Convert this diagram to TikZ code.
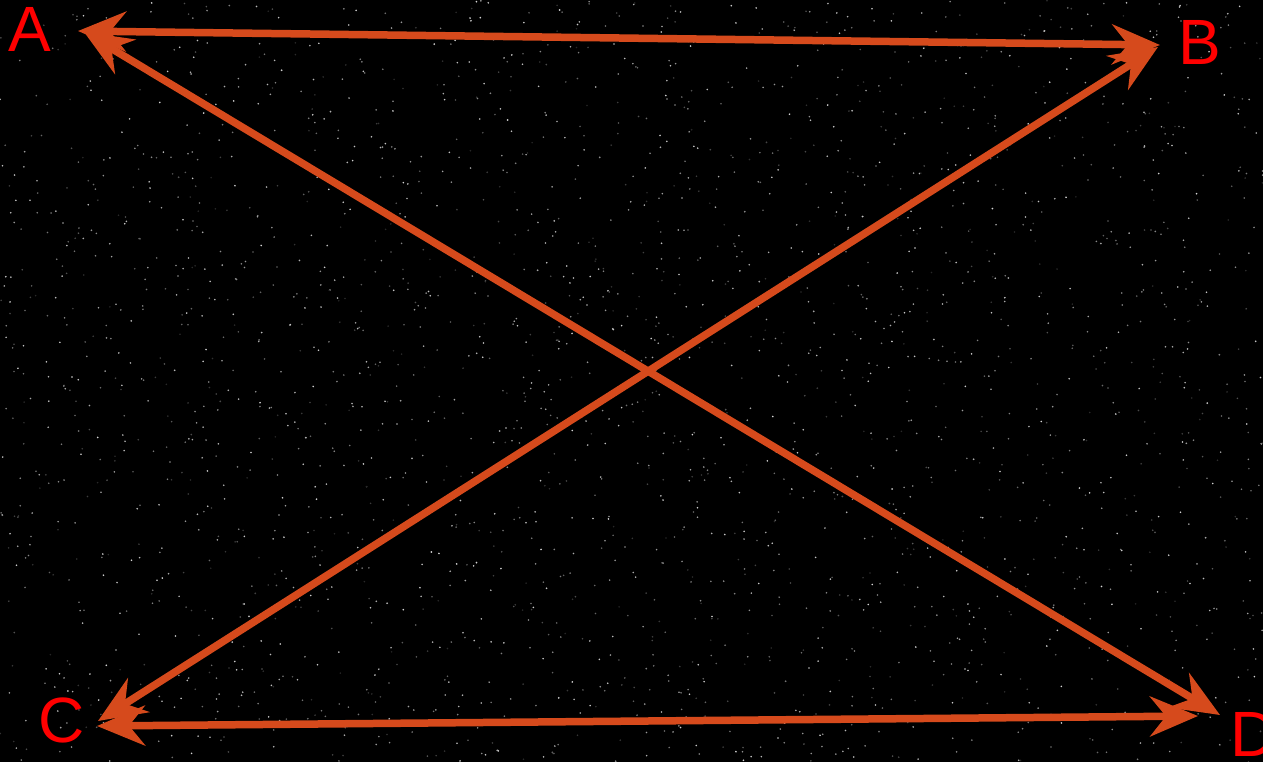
\documentclass[tikz,border=0pt]{standalone}
\usepackage{fontspec}
\setmainfont{Liberation Sans}
\usetikzlibrary{arrows.meta}
\definecolor{arrowc}{RGB}{214,74,28}
\definecolor{labelc}{RGB}{255,0,0}
\tikzset{
  conn/.style={draw=arrowc, line width=7.5pt, {Stealth[length=48pt,width=40pt,inset=16pt]}-{Stealth[length=48pt,width=40pt,inset=16pt]}},
  lbl/.style={text=labelc, inner sep=0pt, anchor=base, font=\fontsize{64}{64}\selectfont}
}
\begin{document}
\begin{tikzpicture}[x=1pt,y=-1pt]
\fill[black] (0,0) rectangle (1263,762);
\useasboundingbox (0,0) rectangle (1263,762);
\pgfmathsetseed{7}
\foreach \i in {1,...,2600}{
  \pgfmathsetmacro\sx{rnd*1263}
  \pgfmathsetmacro\sy{rnd*762}
  \pgfmathtruncatemacro\g{15+rnd*70}
  \fill[white!\g!black] (\sx,\sy) circle (0.9);
}
\node[lbl] (A) at (30,52) {A};
\node[lbl] (B) at (1200,65) {B};
\node[lbl] (C) at (62,742) {C};
\node[lbl] (D) at (1254,756) {D};
\coordinate (ab1) at (78,31);
\coordinate (ab2) at (1160,45);
\coordinate (ad1) at (84,32);
\coordinate (ad2) at (1220,715);
\coordinate (bc1) at (1158,47);
\coordinate (bc2) at (98,721);
\coordinate (cd1) at (97,726);
\coordinate (cd2) at (1198,716);
\draw[conn] (ab1) -- (ab2);
\draw[conn] (ad1) -- (ad2);
\draw[conn] (bc1) -- (bc2);
\draw[conn] (cd1) -- (cd2);
\end{tikzpicture}
\end{document}
